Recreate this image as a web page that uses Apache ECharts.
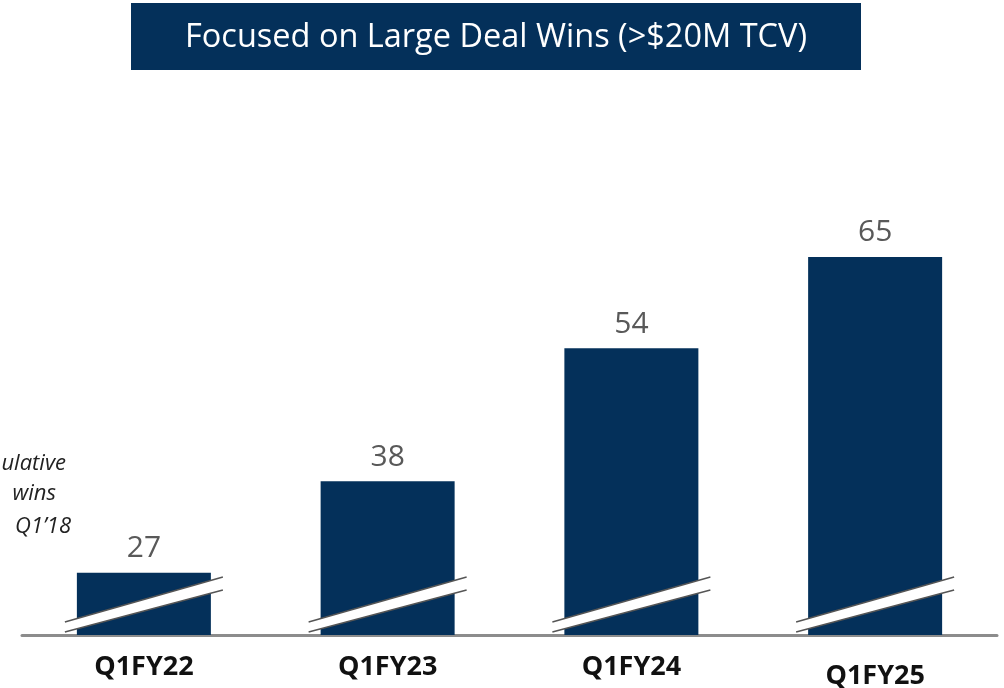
<!DOCTYPE html>
<html>
<head>
<meta charset="utf-8">
<script src="https://cdn.jsdelivr.net/npm/echarts@6/dist/echarts.min.js"></script>
<style>
    html, body { margin: 0; padding: 0; background: #fff; }
    #main { width: 1004px; height: 688px; }
</style>
</head>
<body>
<div id="main"></div>
<script>
    // data
    var quarters = ['Q1FY22', 'Q1FY23', 'Q1FY24', 'Q1FY25'];
    var dealWins = [27, 38, 54, 65];
    // axis is broken, so bars start from this value
    var axisBase = 19.5;
    var axisTop = 79.67;
    var noteLines = ['ulative', 'wins', 'Q1\u201918'];

    var navy = '#04305a';
    var font = '"Open Sans", "Noto Sans", sans-serif';

    var chart = echarts.init(document.getElementById('main'));

    chart.setOption({
        animation: false,
        backgroundColor: '#fff',
        grid: { left: 22, right: 7, top: 135, bottom: 53, outerBoundsMode: 'none', containLabel: false },
        xAxis: {
            type: 'category',
            data: quarters.map(function (q, i) {
                // last label sits a bit lower in the original
                return i === 3 ? { value: q, textStyle: { padding: [9, 0, 0, 0] } } : q;
            }),
            axisLine: { show: true, lineStyle: { color: '#8c8c8c', width: 3 } },
            axisTick: { show: false },
            axisLabel: {
                margin: 19,
                color: '#111',
                fontSize: 27,
                fontWeight: 'bold',
                fontFamily: font
            }
        },
        yAxis: {
            type: 'value',
            min: axisBase,
            max: axisTop,
            show: false,
            splitLine: { show: false }
        },
        series: [
            {
                type: 'bar',
                data: dealWins,
                barWidth: 134,
                itemStyle: { color: navy },
                label: {
                    show: true,
                    position: 'top',
                    distance: 9,
                    color: '#595959',
                    fontSize: 30,
                    fontFamily: font
                }
            },
            {
                // break marks drawn across each bar near the axis
                type: 'custom',
                clip: false,
                z: 5,
                data: quarters.map(function (q, i) { return [i, axisBase]; }),
                renderItem: function (params, api) {
                    var p = api.coord([api.value(0), api.value(1)]);
                    var x = p[0], y = p[1];
                    return {
                        type: 'group',
                        children: [
                            {
                                type: 'polygon',
                                shape: { points: [[x - 79, y - 13], [x + 79, y - 58], [x + 79, y - 45], [x - 79, y - 3]] },
                                style: { fill: '#fff' }
                            },
                            {
                                type: 'line',
                                shape: { x1: x - 79, y1: y - 13, x2: x + 79, y2: y - 58 },
                                style: { stroke: '#555', lineWidth: 1.5 }
                            },
                            {
                                type: 'line',
                                shape: { x1: x - 79, y1: y - 3, x2: x + 79, y2: y - 45 },
                                style: { stroke: '#555', lineWidth: 1.5 }
                            }
                        ]
                    };
                }
            }
        ],
        graphic: [
            {
                type: 'rect',
                left: 131,
                top: 3,
                shape: { width: 730, height: 67 },
                style: { fill: navy }
            },
            {
                type: 'text',
                x: 496,
                y: 38,
                style: {
                    text: 'Focused on Large Deal Wins (>$20M TCV)',
                    fill: '#fff',
                    fontSize: 32.5,
                    fontFamily: font,
                    align: 'center',
                    verticalAlign: 'middle'
                }
            },
            {
                type: 'text',
                x: 66, y: 464,
                style: { text: noteLines[0], fill: '#222', fontSize: 22, fontStyle: 'italic', fontFamily: font, align: 'right', verticalAlign: 'middle' }
            },
            {
                type: 'text',
                x: 56, y: 494,
                style: { text: noteLines[1], fill: '#222', fontSize: 22, fontStyle: 'italic', fontFamily: font, align: 'right', verticalAlign: 'middle' }
            },
            {
                type: 'text',
                x: 71, y: 527,
                style: { text: noteLines[2], fill: '#222', fontSize: 22, fontStyle: 'italic', fontFamily: font, align: 'right', verticalAlign: 'middle' }
            }
        ]
    });
</script>
</body>
</html>
